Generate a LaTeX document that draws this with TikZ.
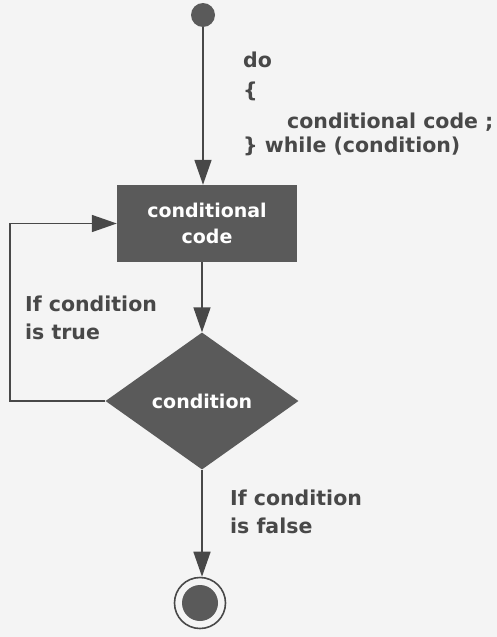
\documentclass[tikz,border=0pt]{standalone}
\usepackage{fontspec}
\setmainfont{DejaVu Sans}
\usetikzlibrary{arrows.meta,shapes.geometric,positioning}
\definecolor{ink}{HTML}{484848}
\definecolor{tone}{HTML}{5A5A5A}
\definecolor{paper}{HTML}{F4F4F4}
\tikzset{
	flow/.style={draw=ink,line width=1.6pt,-{Triangle[length=25pt,width=17pt]}},
	txt/.style={text=ink,inner sep=0pt,anchor=north west,align=left,font=\bfseries\fontsize{20.5}{28}\selectfont},
	wtxt/.style={text=white,inner sep=0pt,align=center,font=\bfseries\fontsize{19}{26}\selectfont},
}

\begin{document}
\begin{tikzpicture}[x=1pt,y=-1pt]
		\fill [paper] (0,0) rectangle (497,637);
		\useasboundingbox (0,0) rectangle (497,637);
		% start and end
		\node [circle,fill=tone,minimum size=24pt,inner sep=0pt] (start) at (203,15) {};
		\node [circle,draw=ink,line width=1.6pt,minimum size=51pt,inner sep=0pt] (stop) at (200,603) {};
		\fill [tone] (stop) circle (18pt);
		% body and test
		\node [wtxt,rectangle,fill=tone,minimum width=180pt,minimum height=77pt] (body) at (207,223.5) {conditional\\code};
		\node [wtxt,diamond,fill=tone,minimum width=193pt,minimum height=137pt] (test) at (202,401) {condition};
		\coordinate (back) at (10,401);
		% connectors
		\draw [flow] (start) -- (start |- body.north);
		\draw [flow] (body.south -| test.north) -- (test.north);
		\draw [flow] (test.west) -- (back) |- (body.west);
		\draw [flow] (test.south) -- (test.south |- stop.north);
		% texts
		\node [txt,font=\bfseries\fontsize{20.5}{24}\selectfont] (code) at (243,52) {do\\[6pt]\{\\[7pt]\hspace*{44pt}conditional code ;\\\} while (condition)};
		\node [txt] (yes) at (25,296) {If condition\\is true};
		\node [txt] (no) at (230,490) {If condition\\is false};
\end{tikzpicture}
\end{document}
